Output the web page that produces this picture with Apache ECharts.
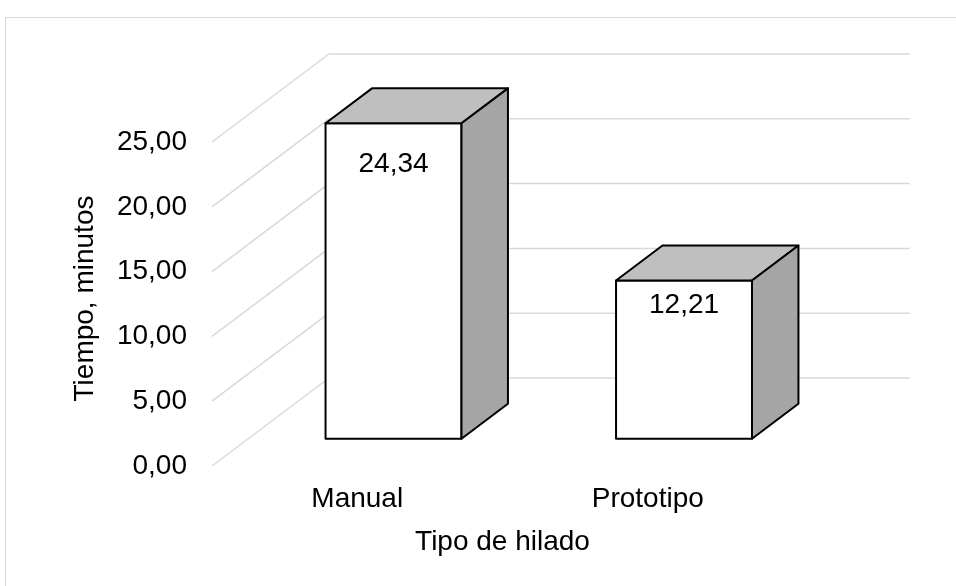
<!DOCTYPE html>
<html>
<head>
<meta charset="utf-8">
<script src="https://cdn.jsdelivr.net/npm/echarts@6/dist/echarts.min.js"></script>
<style>
  html, body { margin: 0; padding: 0; background: #fff; }
  #chart { width: 956px; height: 586px; }
</style>
</head>
<body>
<div id="chart"></div>
<script>
// Chart data
const categories = ['Manual', 'Prototipo'];
const tiempos = [24.34, 12.21];
const yTicks = [0, 5, 10, 15, 20, 25];

// Styling / oblique 3D projection
const FONT = "'Liberation Sans', Arial, sans-serif";
const DEPTH = [117, -88];          // screen offset of the full plot depth
const BAR_FRONT = 0.31;            // bar front face, as a fraction of depth
const BAR_BACK = 0.707;            // bar back face, as a fraction of depth
const BAR_WIDTH = 0.468;           // bar width, as a fraction of the category band
const LABEL_DROP = [41.5, 25];     // value label centre below the bar top
const GRID_COLOR = '#d9d9d9';
const TOP_COLOR = '#bfbfbf';
const SIDE_COLOR = '#a5a5a5';

const fmt = v => v.toFixed(2).replace('.', ',');

const chart = echarts.init(document.getElementById('chart'), null, { renderer: 'canvas' });

function renderWalls(params, api) {
  const v = api.value(1);
  const y = api.coord([0, v])[1];
  const cs = params.coordSys;
  const x0 = cs.x, x1 = cs.x + cs.width;
  const style = { stroke: GRID_COLOR, lineWidth: 1.5 };
  return {
    type: 'group',
    children: [
      { type: 'line', shape: { x1: x0, y1: y, x2: x0 + DEPTH[0], y2: y + DEPTH[1] }, style },
      { type: 'line', shape: { x1: x0 + DEPTH[0], y1: y + DEPTH[1], x2: x1 + DEPTH[0], y2: y + DEPTH[1] }, style }
    ]
  };
}

function renderBar(params, api) {
  const idx = api.value(0);
  const val = api.value(1);
  const base = api.coord([idx, 0]);
  const top = api.coord([idx, val]);
  const band = api.size([1, 0])[0];
  const w = band * BAR_WIDTH;
  const fx = DEPTH[0] * BAR_FRONT, fy = DEPTH[1] * BAR_FRONT;
  const bx = DEPTH[0] * (BAR_BACK - BAR_FRONT), by = DEPTH[1] * (BAR_BACK - BAR_FRONT);
  const L = base[0] - w / 2 + fx, R = L + w;
  const T = top[1] + fy, B = base[1] + fy;
  const edge = { stroke: '#000', lineWidth: 2, lineJoin: 'round' };
  return {
    type: 'group',
    children: [
      { type: 'rect', shape: { x: L, y: T, width: w, height: B - T },
        style: Object.assign({ fill: '#fff' }, edge) },
      { type: 'polygon', shape: { points: [[L, T], [L + bx, T + by], [R + bx, T + by], [R, T]] },
        style: Object.assign({ fill: TOP_COLOR }, edge) },
      { type: 'polygon', shape: { points: [[R, T], [R + bx, T + by], [R + bx, B + by], [R, B]] },
        style: Object.assign({ fill: SIDE_COLOR }, edge) },
      { type: 'text', x: (L + R) / 2, y: T + LABEL_DROP[params.dataIndex],
        style: { text: fmt(val), fill: '#000', font: '28px ' + FONT, align: 'center', verticalAlign: 'middle' } }
    ]
  };
}

chart.setOption({
  animation: false,
  backgroundColor: '#fff',
  textStyle: { fontFamily: FONT },
  graphic: [{
    type: 'rect', silent: true,
    shape: { x: 5.5, y: 17.5, width: 1200, height: 1200 },
    style: { fill: 'none', stroke: GRID_COLOR, lineWidth: 1 }
  }],
  grid: { left: 212, right: 163, top: 142, bottom: 120, containLabel: false, outerBoundsMode: 'none' },
  xAxis: {
    type: 'category',
    data: categories,
    axisLine: { show: false },
    axisTick: { show: false },
    splitLine: { show: false },
    axisLabel: { fontSize: 28, color: '#000', fontFamily: FONT, margin: 19 },
    name: 'Tipo de hilado',
    nameLocation: 'middle',
    nameGap: 62,
    nameTextStyle: { fontSize: 28, color: '#000', fontFamily: FONT }
  },
  yAxis: {
    type: 'value',
    min: 0, max: 25, interval: 5,
    axisLine: { show: false },
    axisTick: { show: false },
    splitLine: { show: false },
    axisLabel: { fontSize: 28, color: '#000', fontFamily: FONT, margin: 25, formatter: v => fmt(v) },
    name: 'Tiempo, minutos',
    nameLocation: 'middle',
    nameRotate: 90,
    nameGap: 112.5,
    nameTextStyle: { fontSize: 28, color: '#000', fontFamily: FONT, padding: [0, 0, 0, 11] }
  },
  series: [
    {
      type: 'custom',
      clip: false,
      silent: true,
      renderItem: renderWalls,
      encode: { x: 0, y: 1 },
      data: yTicks.map(v => [0, v]),
      z: 1
    },
    {
      type: 'custom',
      clip: false,
      renderItem: renderBar,
      encode: { x: 0, y: 1 },
      data: tiempos.map((v, i) => [i, v]),
      z: 2
    }
  ]
});
</script>
</body>
</html>
